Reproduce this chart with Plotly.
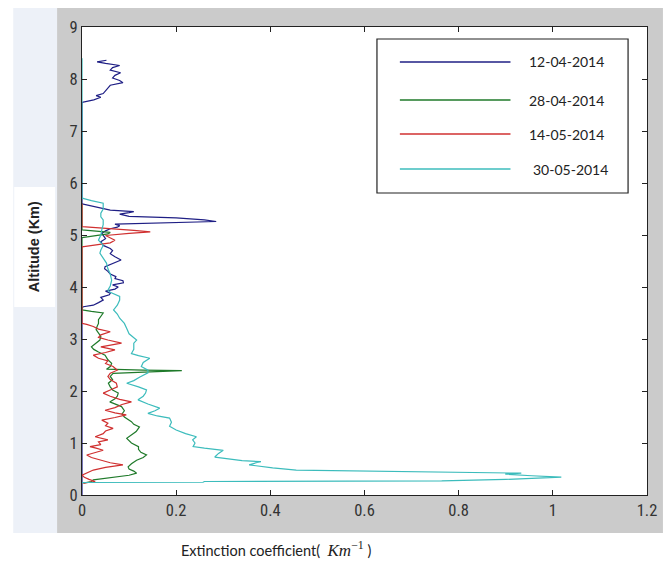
import plotly.graph_objects as go

# ---------------- data ----------------
series_names = ["12-04-2014", "28-04-2014", "14-05-2014", "30-05-2014"]
series_colors = ["#1f1f85", "#1f7a2a", "#d03030", "#3cbcbc"]

blue_alt = [0.0, 3.60, 3.62, 3.65, 3.70, 3.75, 3.80, 3.85, 3.88, 3.92, 3.96, 4.00, 4.04, 4.08, 4.12,
            4.16, 4.20, 4.25, 4.30, 4.35, 4.39, 4.45, 4.52, 4.58, 4.64, 4.70, 4.74, 4.80, 4.87, 4.93,
            4.98, 5.03, 5.08, 5.12, 5.15, 5.18, 5.21, 5.24, 5.26, 5.29, 5.33, 5.36, 5.40, 5.43, 5.45,
            5.48, 5.52, 5.56, 5.60, 7.55, 7.57, 7.60, 7.65, 7.68, 7.72, 7.77, 7.83, 7.88, 7.93, 7.97,
            8.02, 8.07, 8.12, 8.17, 8.22, 8.26, 8.30, 8.33, 8.36]
blue_ext = [0.0, 0.0, 0.003, 0.024, 0.035, 0.045, 0.040, 0.058, 0.060, 0.050, 0.070, 0.077, 0.065, 0.088, 0.087,
            0.070, 0.072, 0.060, 0.055, 0.048, 0.049, 0.065, 0.083, 0.070, 0.060, 0.065, 0.060, 0.045, 0.040, 0.050,
            0.045, 0.042, 0.050, 0.060, 0.075, 0.080, 0.070, 0.200, 0.285, 0.260, 0.200, 0.100, 0.080, 0.100, 0.110,
            0.060, 0.040, 0.020, 0.0, 0.0, 0.010, 0.025, 0.040, 0.030, 0.045, 0.050, 0.055, 0.060, 0.087, 0.080,
            0.065, 0.070, 0.082, 0.060, 0.065, 0.080, 0.050, 0.032, 0.052]

green_alt = [0.23, 0.26, 0.29, 0.32, 0.35, 0.38, 0.42, 0.46, 0.50, 0.54, 0.60, 0.67, 0.72, 0.77, 0.82,
             0.88, 0.93, 1.00, 1.09, 1.15, 1.22, 1.31, 1.36, 1.41, 1.46, 1.50, 1.56, 1.62, 1.70, 1.75,
             1.79, 1.85, 1.90, 1.96, 2.02, 2.08, 2.15, 2.22, 2.28, 2.34, 2.37, 2.39, 2.40, 2.42, 2.47,
             2.53, 2.60, 2.69, 2.75, 2.80, 2.85, 2.92, 2.98, 3.05, 3.12, 3.18, 3.24, 3.30, 3.37, 3.44,
             3.50, 3.53, 3.56, 4.95, 4.98, 5.02, 5.05, 5.08, 5.10, 5.60]
green_ext = [0.003, 0.020, 0.024, 0.050, 0.080, 0.100, 0.116, 0.110, 0.100, 0.098, 0.105, 0.116, 0.130, 0.137, 0.125,
             0.120, 0.120, 0.105, 0.095, 0.105, 0.115, 0.122, 0.110, 0.105, 0.095, 0.090, 0.085, 0.090, 0.084, 0.070,
             0.059, 0.070, 0.075, 0.077, 0.065, 0.060, 0.056, 0.065, 0.060, 0.066, 0.160, 0.212, 0.130, 0.052, 0.060,
             0.063, 0.055, 0.049, 0.035, 0.025, 0.020, 0.030, 0.038, 0.040, 0.035, 0.030, 0.032, 0.035, 0.035, 0.040,
             0.045, 0.020, 0.0, 0.0, 0.020, 0.055, 0.060, 0.030, 0.0, 0.0]

red_alt = [0.23, 0.26, 0.30, 0.34, 0.38, 0.43, 0.48, 0.53, 0.58, 0.62, 0.67, 0.72, 0.77, 0.82, 0.86,
           0.90, 0.93, 0.97, 1.02, 1.06, 1.12, 1.18, 1.23, 1.28, 1.33, 1.38, 1.44, 1.49, 1.54, 1.58,
           1.63, 1.68, 1.74, 1.79, 1.84, 1.90, 1.96, 2.02, 2.08, 2.15, 2.22, 2.28, 2.34, 2.40, 2.47,
           2.53, 2.58, 2.63, 2.69, 2.74, 2.79, 2.85, 2.92, 2.98, 3.03, 3.08, 3.14, 3.19, 3.24, 3.28,
           3.30, 4.77, 4.80, 4.85, 4.90, 4.95, 4.99, 5.03, 5.06, 5.09, 5.12, 5.14, 5.16, 5.60]
red_ext = [0.003, 0.028, 0.015, 0.005, 0.0, 0.012, 0.024, 0.050, 0.087, 0.060, 0.040, 0.020, 0.010, 0.030, 0.045,
           0.030, 0.017, 0.040, 0.035, 0.055, 0.028, 0.045, 0.050, 0.066, 0.050, 0.055, 0.042, 0.070, 0.094, 0.070,
           0.049, 0.070, 0.085, 0.105, 0.080, 0.060, 0.045, 0.060, 0.075, 0.073, 0.060, 0.055, 0.060, 0.075, 0.066,
           0.050, 0.055, 0.035, 0.024, 0.050, 0.070, 0.040, 0.084, 0.055, 0.035, 0.040, 0.060, 0.035, 0.024, 0.010,
           0.0, 0.0, 0.020, 0.060, 0.070, 0.060, 0.050, 0.100, 0.145, 0.110, 0.060, 0.030, 0.0, 0.0]

cyan_alt = [0.24, 0.245, 0.26, 0.27, 0.30, 0.345, 0.37, 0.40, 0.42, 0.43, 0.44, 0.46, 0.48, 0.52, 0.58,
            0.62, 0.64, 0.66, 0.70, 0.73, 0.80, 0.86, 0.90, 0.93, 1.00, 1.06, 1.12, 1.18, 1.25, 1.32,
            1.40, 1.48, 1.52, 1.57, 1.62, 1.67, 1.75, 1.83, 1.90, 1.96, 2.02, 2.08, 2.15, 2.20, 2.27,
            2.35, 2.40, 2.47, 2.55, 2.63, 2.68, 2.72, 2.80, 2.92, 2.98, 3.10, 3.20, 3.30, 3.40, 3.48,
            3.56, 3.65, 3.75, 3.82, 3.90, 3.94, 4.02, 4.13, 4.25, 4.35, 4.46, 4.55, 4.65, 4.71, 4.80,
            4.90, 5.00, 5.10, 5.20, 5.29, 5.35, 5.42, 5.50, 5.58, 5.61, 5.66, 5.71, 8.40]
cyan_ext = [0.0, 0.257, 0.260, 0.764, 0.900, 1.018, 0.955, 0.899, 0.933, 0.860, 0.710, 0.600, 0.455, 0.405, 0.355,
            0.370, 0.380, 0.340, 0.310, 0.282, 0.290, 0.300, 0.260, 0.236, 0.240, 0.235, 0.243, 0.220, 0.200, 0.186,
            0.190, 0.186, 0.160, 0.140, 0.155, 0.165, 0.140, 0.119, 0.130, 0.135, 0.137, 0.120, 0.095, 0.110, 0.123,
            0.140, 0.140, 0.126, 0.130, 0.144, 0.120, 0.105, 0.110, 0.110, 0.116, 0.100, 0.095, 0.090, 0.080, 0.075,
            0.067, 0.075, 0.080, 0.080, 0.060, 0.055, 0.060, 0.063, 0.060, 0.055, 0.052, 0.045, 0.038, 0.040, 0.045,
            0.035, 0.040, 0.042, 0.045, 0.045, 0.040, 0.040, 0.045, 0.045, 0.045, 0.020, 0.0, 0.0]

x_ticks = [0, 0.2, 0.4, 0.6, 0.8, 1.0, 1.2]
y_ticks = [0, 1, 2, 3, 4, 5, 6, 7, 8, 9]

series_x = [blue_ext, green_ext, red_ext, cyan_ext]
series_y = [blue_alt, green_alt, red_alt, cyan_alt]

# ---------------- layout geometry (pixels) ----------------
W, H = 669, 565
L, R, T, B = 82, 20, 27, 70
PW, PH = W - L - R, H - T - B


def px(xp):
    return (xp - L) / PW


def py(yp):
    return (H - B - yp) / PH


fig = go.Figure()
for xs, ys, name, col in zip(series_x, series_y, series_names, series_colors):
    fig.add_trace(go.Scatter(x=xs, y=ys, mode="lines", name=name,
                             line=dict(color=col, width=1.2), showlegend=False))

shapes = [
    dict(type="rect", xref="paper", yref="paper", x0=px(13), x1=px(57), y0=py(533), y1=py(8),
         fillcolor="#edf1f8", line=dict(width=0), layer="below"),
    dict(type="rect", xref="paper", yref="paper", x0=px(57), x1=px(665), y0=py(533), y1=py(8),
         fillcolor="#cbcbcb", line=dict(width=0), layer="below"),
    dict(type="rect", xref="paper", yref="paper", x0=0, x1=1, y0=0, y1=1,
         fillcolor="white", line=dict(width=0), layer="below"),
    dict(type="rect", xref="paper", yref="paper", x0=px(14), x1=px(55), y0=py(307), y1=py(187),
         fillcolor="white", line=dict(width=0), layer="below"),
    # legend box
    dict(type="rect", xref="paper", yref="paper", x0=px(378), x1=px(630), y0=py(193), y1=py(39),
         fillcolor="white", line=dict(color="#222", width=1.2), layer="above"),
]

annotations = []
leg_y = [62, 100, 134, 169]
leg_tx = [529, 529, 529, 533]
for name, col, ly, tx in zip(series_names, series_colors, leg_y, leg_tx):
    shapes.append(dict(type="line", xref="paper", yref="paper", x0=px(401), x1=px(512),
                       y0=py(ly), y1=py(ly), line=dict(color=col, width=1.5), layer="above"))
    annotations.append(dict(xref="paper", yref="paper", x=px(tx), y=py(ly), text=name,
                            showarrow=False, xanchor="left", yanchor="middle",
                            font=dict(family="Lato, Liberation Sans", size=14, color="#222")))

annotations.append(dict(xref="paper", yref="paper", x=px(34), y=py(247), text="<b>Altitude (Km)</b>",
                        textangle=-90, showarrow=False, xanchor="center", yanchor="middle",
                        font=dict(family="Liberation Sans, Arial", size=14.5, color="#222")))
annotations.append(dict(xref="paper", yref="paper", x=px(179), y=py(549),
                        text='Extinction coefficient(  <span style="font-family:Liberation Serif;font-size:17px">'
                             '<i>Km</i><sup>−1</sup></span> )',
                        showarrow=False, xanchor="left", yanchor="middle",
                        font=dict(family="Lato, Liberation Sans", size=14.5, color="#222")))

tickfont = dict(family="Liberation Sans Narrow, Arial Narrow, Roboto Condensed, Liberation Sans", size=16.5,
                color="#333")
fig.update_layout(
    width=W, height=H, margin=dict(l=L, r=R, t=T, b=B, pad=0),
    paper_bgcolor="white", plot_bgcolor="white",
    shapes=shapes, annotations=annotations, showlegend=False,
    xaxis=dict(range=[0, 1.2], tickvals=x_ticks, ticktext=[f"{v:g}" for v in x_ticks],
               ticks="inside", ticklen=5, tickcolor="#222", showline=True, linecolor="#222",
               linewidth=1, mirror="ticks", showgrid=False, zeroline=False, tickfont=tickfont),
    yaxis=dict(range=[0, 9], tickvals=y_ticks, ticktext=[str(v) for v in y_ticks],
               ticks="inside", ticklen=5, tickcolor="#222", showline=True, linecolor="#222",
               linewidth=1, mirror="ticks", showgrid=False, zeroline=False, tickfont=tickfont),
)

fig.write_html("out.html")
